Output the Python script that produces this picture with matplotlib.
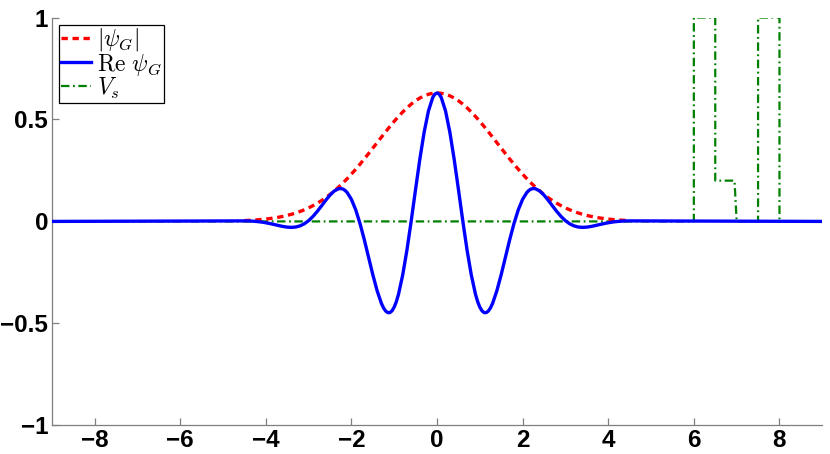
import numpy as np
import matplotlib
matplotlib.use('Agg')
import matplotlib.pyplot as plt

plt.rcParams['mathtext.fontset'] = 'cm'

### values (x step ~0.1 over the packet, zero outside)
x_pk = [-4.5, -4.4, -4.3, -4.2, -4.1, -4.0, -3.9, -3.8, -3.7, -3.6,
        -3.5, -3.4, -3.3, -3.2, -3.1, -3.0, -2.9, -2.8, -2.7, -2.6,
        -2.5, -2.4, -2.3, -2.25, -2.2, -2.15, -2.1, -2.0, -1.9, -1.8, -1.7, -1.6,
        -1.5, -1.4, -1.3, -1.25, -1.2, -1.15, -1.1, -1.05, -1.0, -0.95, -0.9, -0.8, -0.7, -0.6,
        -0.5, -0.4, -0.3, -0.2, -0.1, -0.05, 0.0, 0.05, 0.1, 0.2, 0.3, 0.4,
        0.5, 0.6, 0.7, 0.8, 0.9, 0.95, 1.0, 1.05, 1.1, 1.15, 1.2, 1.25, 1.3, 1.4,
        1.5, 1.6, 1.7, 1.8, 1.9, 2.0, 2.1, 2.15, 2.2, 2.25, 2.3, 2.4,
        2.5, 2.6, 2.7, 2.8, 2.9, 3.0, 3.1, 3.2, 3.3, 3.4,
        3.5, 3.6, 3.7, 3.8, 3.9, 4.0, 4.1, 4.2, 4.3, 4.4, 4.5]

# |psi_G| envelope
abs_psi = [0.0040, 0.0050, 0.0062, 0.0077, 0.0094, 0.0115, 0.0141, 0.0170, 0.0206, 0.0247,
           0.0295, 0.0350, 0.0414, 0.0487, 0.0570, 0.0664, 0.0770, 0.0887, 0.1018, 0.1162,
           0.1321, 0.1493, 0.1679, 0.1777, 0.1879, 0.1984, 0.2092, 0.2318, 0.2555, 0.2803, 0.3059, 0.3322,
           0.3590, 0.3860, 0.4129, 0.4263, 0.4395, 0.4526, 0.4656, 0.4782, 0.4906, 0.5028, 0.5145, 0.5368, 0.5574, 0.5758,
           0.5918, 0.6053, 0.6160, 0.6237, 0.6284, 0.6296, 0.6300, 0.6296, 0.6284, 0.6237, 0.6160, 0.6053,
           0.5918, 0.5758, 0.5574, 0.5368, 0.5145, 0.5028, 0.4906, 0.4782, 0.4656, 0.4526, 0.4395, 0.4263, 0.4129, 0.3860,
           0.3590, 0.3322, 0.3059, 0.2803, 0.2555, 0.2318, 0.2092, 0.1984, 0.1879, 0.1777, 0.1679, 0.1493,
           0.1321, 0.1162, 0.1018, 0.0887, 0.0770, 0.0664, 0.0570, 0.0487, 0.0414, 0.0350,
           0.0295, 0.0247, 0.0206, 0.0170, 0.0141, 0.0115, 0.0094, 0.0077, 0.0062, 0.0050, 0.0040]

# Re psi_G
re_psi = [0.0026, 0.0022, 0.0011, -0.0006, -0.0031, -0.0065, -0.0107, -0.0153, -0.0202, -0.0247,
          -0.0280, -0.0292, -0.0275, -0.0219, -0.0117, 0.0036, 0.0238, 0.0482, 0.0754, 0.1032,
          0.1290, 0.1492, 0.1602, 0.1613, 0.1590, 0.1526, 0.1422, 0.1086, 0.0576, -0.0091, -0.0881, -0.1744,
          -0.2606, -0.3390, -0.4012, -0.4238, -0.4395, -0.4474, -0.4473, -0.4383, -0.4204, -0.3936, -0.3582, -0.2615, -0.1377, 0.0062,
          0.1583, 0.3064, 0.4379, 0.5413, 0.6073, 0.6243, 0.6300, 0.6243, 0.6073, 0.5413, 0.4379, 0.3064,
          0.1583, 0.0062, -0.1377, -0.2615, -0.3582, -0.3936, -0.4204, -0.4383, -0.4473, -0.4474, -0.4395, -0.4238, -0.4012, -0.3390,
          -0.2606, -0.1744, -0.0881, -0.0091, 0.0576, 0.1086, 0.1422, 0.1526, 0.1590, 0.1613, 0.1602, 0.1492,
          0.1290, 0.1032, 0.0754, 0.0482, 0.0238, 0.0036, -0.0117, -0.0219, -0.0275, -0.0292,
          -0.0280, -0.0247, -0.0202, -0.0153, -0.0107, -0.0065, -0.0031, -0.0006, 0.0011, 0.0022, 0.0026]

x_min, x_max = -9, 9

# barrier potential V_s
x_v = [-9.0, 6.0, 6.0, 6.5, 6.5, 6.95, 7.0, 7.5, 7.5, 8.0, 8.0, 9.0]
v_s = [0.0, 0.0, 1.0, 1.0, 0.2, 0.2, 0.0, 0.0, 1.0, 1.0, 0.0, 0.0]

labels = [r'$|\psi_G|$', r'$\mathrm{Re}\ \psi_G$', r'$V_s$']
xticks = [-8, -6, -4, -2, 0, 2, 4, 6, 8]
yticks = [-1, -0.5, 0, 0.5, 1]
ytick_labels = ['-1', '-0.5', '0', '0.5', '1']

fig = plt.figure(figsize=(8.3, 4.54), dpi=100)
ax = fig.add_axes([0.0623, 0.0632, 0.9284, 0.8982])

x_re = [x_min] + x_pk + [x_max]
y_re = [0.0] + re_psi + [0.0]

l_v, = ax.plot(x_v, v_s, color='#008000', lw=1.6, zorder=2)
l_v.set_dashes((3.8, 1.6, 0.8, 1.6))
l_abs, = ax.plot(x_pk, abs_psi, color='red', lw=2.4, zorder=3)
l_abs.set_dashes((1.9, 1.4))
l_re, = ax.plot(x_re, y_re, color='blue', lw=2.4, zorder=4)

ax.set_xlim(x_min, x_max)
ax.set_ylim(-1, 1)
ax.set_xticks(xticks)
ax.set_yticks(yticks)
ax.set_yticklabels([s.replace('-', '\u2212') for s in ytick_labels])

for side in ['top', 'right']:
    ax.spines[side].set_visible(False)
for side in ['left', 'bottom']:
    ax.spines[side].set_color('#7f7f7f')
    ax.spines[side].set_linewidth(0.9)
ax.tick_params(direction='in', length=5, width=0.9, color='#7f7f7f',
               labelsize=17.5, top=False, right=False)
ax.tick_params(axis='x', pad=2.5)
ax.tick_params(axis='y', pad=2.5)
for lab in ax.get_xticklabels() + ax.get_yticklabels():
    lab.set_fontfamily('Liberation Sans')
    lab.set_fontweight('bold')

leg = ax.legend([l_abs, l_re, l_v], labels, loc='upper left', fontsize=17,
                frameon=True, fancybox=False, framealpha=1, edgecolor='black',
                borderaxespad=0.3, borderpad=0.08, labelspacing=-0.08,
                handlelength=1.3, handletextpad=0.25)
leg.get_frame().set_linewidth(0.9)

fig.savefig('out.png', dpi=100)
